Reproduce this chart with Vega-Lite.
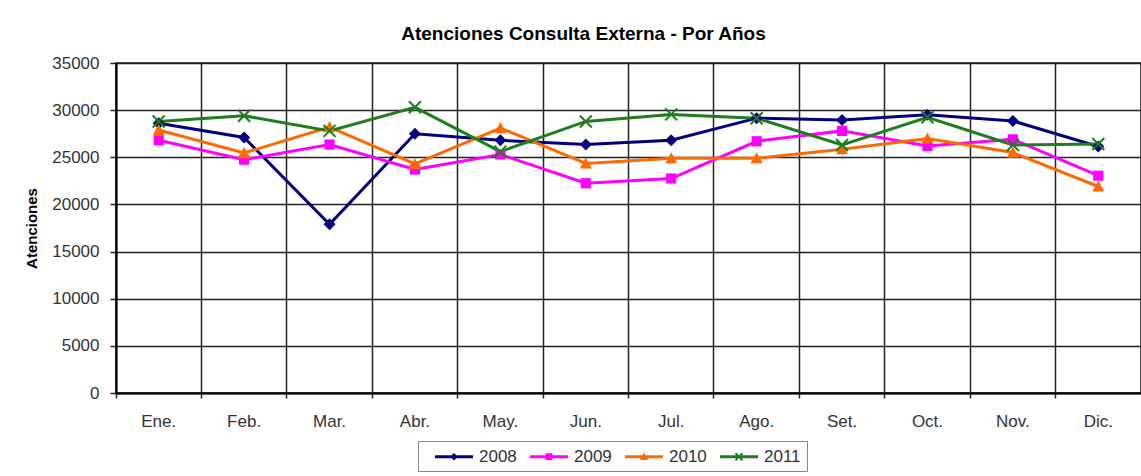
{
  "$schema": "https://vega.github.io/schema/vega-lite/v6.json",
  "autosize": "none",
  "width": 1025,
  "height": 330,
  "padding": {"left": 116, "top": 63, "right": 0, "bottom": 83},
  "background": "white",
  "title": {
    "text": "Atenciones Consulta Externa - Por Años",
    "font": "Liberation Sans",
    "fontSize": 19,
    "fontWeight": "bold",
    "color": "#000",
    "anchor": "middle",
    "dx": -45,
    "offset": 10
  },
  "config": {
    "view": {"stroke": "#111", "strokeWidth": 1.5},
    "axis": {"labelFont": "Liberation Sans", "titleFont": "Liberation Sans"}
  },
  "data": {
    "values": [
      {"mes": "Ene.", "anio": "2008", "v": 28600}, {"mes": "Feb.", "anio": "2008", "v": 27100}, {"mes": "Mar.", "anio": "2008", "v": 17900}, {"mes": "Abr.", "anio": "2008", "v": 27500}, {"mes": "May.", "anio": "2008", "v": 26800}, {"mes": "Jun.", "anio": "2008", "v": 26350}, {"mes": "Jul.", "anio": "2008", "v": 26800}, {"mes": "Ago.", "anio": "2008", "v": 29150}, {"mes": "Set.", "anio": "2008", "v": 28950}, {"mes": "Oct.", "anio": "2008", "v": 29500}, {"mes": "Nov.", "anio": "2008", "v": 28850}, {"mes": "Dic.", "anio": "2008", "v": 26150},
      {"mes": "Ene.", "anio": "2009", "v": 26800}, {"mes": "Feb.", "anio": "2009", "v": 24750}, {"mes": "Mar.", "anio": "2009", "v": 26350}, {"mes": "Abr.", "anio": "2009", "v": 23700}, {"mes": "May.", "anio": "2009", "v": 25300}, {"mes": "Jun.", "anio": "2009", "v": 22250}, {"mes": "Jul.", "anio": "2009", "v": 22750}, {"mes": "Ago.", "anio": "2009", "v": 26700}, {"mes": "Set.", "anio": "2009", "v": 27800}, {"mes": "Oct.", "anio": "2009", "v": 26200}, {"mes": "Nov.", "anio": "2009", "v": 26900}, {"mes": "Dic.", "anio": "2009", "v": 23050},
      {"mes": "Ene.", "anio": "2010", "v": 27900}, {"mes": "Feb.", "anio": "2010", "v": 25450}, {"mes": "Mar.", "anio": "2010", "v": 28200}, {"mes": "Abr.", "anio": "2010", "v": 24300}, {"mes": "May.", "anio": "2010", "v": 28100}, {"mes": "Jun.", "anio": "2010", "v": 24350}, {"mes": "Jul.", "anio": "2010", "v": 24900}, {"mes": "Ago.", "anio": "2010", "v": 24900}, {"mes": "Set.", "anio": "2010", "v": 25850}, {"mes": "Oct.", "anio": "2010", "v": 27000}, {"mes": "Nov.", "anio": "2010", "v": 25500}, {"mes": "Dic.", "anio": "2010", "v": 21900},
      {"mes": "Ene.", "anio": "2011", "v": 28800}, {"mes": "Feb.", "anio": "2011", "v": 29400}, {"mes": "Mar.", "anio": "2011", "v": 27800}, {"mes": "Abr.", "anio": "2011", "v": 30300}, {"mes": "May.", "anio": "2011", "v": 25600}, {"mes": "Jun.", "anio": "2011", "v": 28800}, {"mes": "Jul.", "anio": "2011", "v": 29550}, {"mes": "Ago.", "anio": "2011", "v": 29150}, {"mes": "Set.", "anio": "2011", "v": 26300}, {"mes": "Oct.", "anio": "2011", "v": 29250}, {"mes": "Nov.", "anio": "2011", "v": 26300}, {"mes": "Dic.", "anio": "2011", "v": 26400}
    ]
  },
  "encoding": {
    "x": {
      "field": "mes",
      "type": "nominal",
      "sort": ["Ene.", "Feb.", "Mar.", "Abr.", "May.", "Jun.", "Jul.", "Ago.", "Set.", "Oct.", "Nov.", "Dic."],
      "scale": {"type": "band", "paddingInner": 0, "paddingOuter": 0},
      "axis": {
        "title": null,
        "bandPosition": 0,
        "labelDx": 42.7,
        "labelAngle": 0,
        "labelFontSize": 17,
        "labelColor": "#333",
        "labelPadding": 15,
        "tickSize": 5,
        "tickColor": "#222",
        "tickWidth": 1.5,
        "grid": true,
        "gridColor": "#222",
        "gridWidth": 1.5,
        "domainColor": "#000",
        "domainWidth": 2
      }
    },
    "y": {
      "field": "v",
      "type": "quantitative",
      "scale": {"domain": [0, 35000], "nice": false, "zero": true},
      "axis": {
        "title": "Atenciones",
        "titleFontSize": 15,
        "titleFontWeight": "bold",
        "titleColor": "#000",
        "titlePadding": 12,
        "values": [0, 5000, 10000, 15000, 20000, 25000, 30000, 35000],
        "format": "d",
        "labelFontSize": 17,
        "labelColor": "#333",
        "labelPadding": 11,
        "tickSize": 6,
        "tickColor": "#222",
        "tickWidth": 1.5,
        "grid": true,
        "gridColor": "#222",
        "gridWidth": 1.5,
        "domainColor": "#000",
        "domainWidth": 2
      }
    }
  },
  "layer": [
    {
      "mark": {"type": "line", "strokeWidth": 3},
      "encoding": {
        "color": {
          "field": "anio", "type": "nominal",
          "scale": {"domain": ["2008", "2009", "2010", "2011"], "range": ["#000080", "#FF00FF", "#FF6A00", "#1E7D1E"]},
          "legend": null
        }
      }
    },
    {
      "mark": {"type": "point", "filled": true, "opacity": 1, "size": 144, "strokeWidth": 0},
      "encoding": {
        "color": {
          "field": "anio", "type": "nominal",
          "scale": {"domain": ["2008", "2009", "2010", "2011"], "range": ["#000080", "#FF00FF", "#FF6A00", "#1E7D1E"]},
          "legend": null
        },
        "shape": {
          "field": "anio", "type": "nominal",
          "scale": {"domain": ["2008", "2009", "2010", "2011"], "range": [
            "M0,-1L1,0L0,1L-1,0Z",
            "M-0.85,-0.85L0.85,-0.85L0.85,0.85L-0.85,0.85Z",
            "M0,-1L1,0.85L-1,0.85Z",
            "M-0.88,-1.12L1.12,0.88L0.88,1.12L-1.12,-0.88ZM-1.12,0.88L0.88,-1.12L1.12,-0.88L-0.88,1.12Z"
          ]},
          "legend": null
        }
      }
    },
    {
      "mark": {"type": "point", "filled": true, "opacity": 0, "size": 361, "strokeWidth": 0},
      "encoding": {
        "color": {
          "field": "anio", "type": "nominal",
          "scale": {"domain": ["2008", "2009", "2010", "2011"], "range": ["#000080", "#FF00FF", "#FF6A00", "#1E7D1E"]},
          "legend": {
            "title": null, "orient": "none", "legendX": 302, "legendY": 378,
            "direction": "horizontal", "columns": 4, "strokeColor": "#888", "padding": 6,
            "symbolSize": 361, "symbolOpacity": 1, "symbolStrokeWidth": 0,
            "labelFont": "Liberation Sans", "labelFontSize": 17, "labelColor": "#333",
            "labelOffset": 36, "columnPadding": 2
          }
        },
        "shape": {
          "field": "anio", "type": "nominal",
          "scale": {"domain": ["2008", "2009", "2010", "2011"], "range": [
            "M0.16,-0.16L4.16,-0.16L4.16,0.16L0.16,0.16ZM2.16,-0.4L2.56,0L2.16,0.4L1.76,0Z",
            "M0.16,-0.16L4.16,-0.16L4.16,0.16L0.16,0.16ZM1.79,-0.37L2.53,-0.37L2.53,0.37L1.79,0.37Z",
            "M0.16,-0.16L4.16,-0.16L4.16,0.16L0.16,0.16ZM2.16,-0.45L2.61,0.35L1.71,0.35Z",
            "M0.16,-0.16L4.16,-0.16L4.16,0.16L0.16,0.16ZM1.86,-0.44L2.6,0.3L2.46,0.44L1.72,-0.3ZM1.72,0.3L2.46,-0.44L2.6,-0.3L1.86,0.44Z"
          ]},
          "legend": {
            "title": null, "orient": "none", "legendX": 302, "legendY": 378,
            "direction": "horizontal", "columns": 4, "strokeColor": "#888", "padding": 6,
            "symbolSize": 361, "symbolOpacity": 1, "symbolStrokeWidth": 0,
            "labelFont": "Liberation Sans", "labelFontSize": 17, "labelColor": "#333",
            "labelOffset": 36, "columnPadding": 2
          }
        }
      }
    }
  ],
  "resolve": {"scale": {"color": "independent", "shape": "independent"}}
}
